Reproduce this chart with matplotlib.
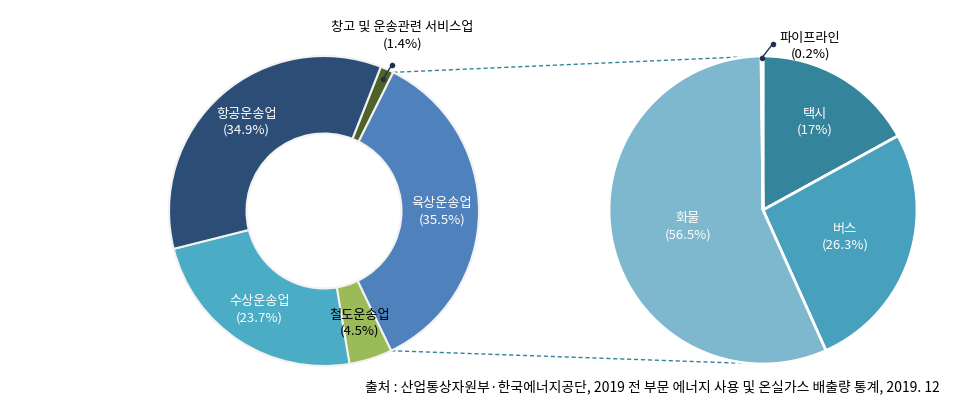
import numpy as np
import matplotlib
matplotlib.use("Agg")
import matplotlib.pyplot as plt

plt.rcParams['font.family'] = ['Noto Sans CJK KR', 'DejaVu Sans']

# 운송업 부문별 비중 (도넛)
sectors = ['창고 및 운송관련 서비스업', '육상운송업', '철도운송업', '수상운송업', '항공운송업']
sector_share = [1.4, 35.5, 4.5, 23.7, 34.9]
sector_pct_labels = ['(1.4%)', '(35.5%)', '(4.5%)', '(23.7%)', '(34.9%)']

# 육상운송업 세부 비중 (파이)
road = ['택시', '버스', '화물', '파이프라인']
road_share = [17.0, 26.3, 56.5, 0.2]
road_pct_labels = ['(17%)', '(26.3%)', '(56.5%)', '(0.2%)']

source = '출처 : 산업통상자원부·한국에너지공단, 2019 전 부문 에너지 사용 및 온실가스 배출량 통계, 2019. 12'

W, H = 975, 417
fig = plt.figure(figsize=(W / 100, H / 100), dpi=100)
ax = fig.add_axes([0, 0, 1, 1])

donut_c = (324, H - 211)
donut_r = 155
pie_c = (763, H - 210)
pie_r = 154

donut_colors = ['#4f6228', '#4f81bd', '#9bbb59', '#4bacc6', '#2c4d75']
pie_colors = ['#34849b', '#47a1bd', '#7db8cf', '#2c4d75']

w1, _ = ax.pie(sector_share, colors=donut_colors, startangle=68.5, counterclock=False,
               center=donut_c, radius=donut_r,
               wedgeprops=dict(width=donut_r * 0.5, edgecolor='#f2f2f2', linewidth=1.5))
w2, _ = ax.pie(road_share, colors=pie_colors, startangle=90, counterclock=False,
               center=pie_c, radius=pie_r,
               wedgeprops=dict(edgecolor='white', linewidth=2))
for w in list(w1) + list(w2):
    w.set_zorder(3)


def polar(c, r, deg):
    a = np.deg2rad(deg)
    return c[0] + r * np.cos(a), c[1] + r * np.sin(a)


def mid(w):
    return (w.theta1 + w.theta2) / 2


# 도넛 라벨
for i in range(1, 5):
    x, y = polar(donut_c, donut_r * 0.76, mid(w1[i]))
    col = 'black' if i == 2 else 'white'
    ax.text(x, y + 8, sectors[i], ha='center', va='center', fontsize=9.5, color=col, zorder=5)
    ax.text(x, y - 8, sector_pct_labels[i], ha='center', va='center', fontsize=9.5, color=col, zorder=5)

# 창고 라벨 + 지시선
x0, y0 = polar(donut_c, donut_r * 0.93, mid(w1[0]))
x1, y1 = x0 + 9, y0 + 14
ax.plot([x0, x1], [y0, y1], color='#1f3050', lw=1, zorder=6)
ax.plot([x0, x1], [y0, y1], 'o', color='#1f3050', ms=3, zorder=6)
ax.text(x1 + 11, y1 + 38, sectors[0], ha='center', va='center', fontsize=9.5, zorder=6)
ax.text(x1 + 11, y1 + 21, sector_pct_labels[0], ha='center', va='center', fontsize=9.5, zorder=6)

# 파이 라벨
for i, d in zip(range(3), [0.66, 0.56, 0.5]):
    x, y = polar(pie_c, pie_r * d, mid(w2[i]))
    ax.text(x, y + 8, road[i], ha='center', va='center', fontsize=9.5, color='white', zorder=5)
    ax.text(x, y - 8, road_pct_labels[i], ha='center', va='center', fontsize=9.5, color='white', zorder=5)

x0, y0 = polar(pie_c, pie_r * 0.99, mid(w2[3]))
x1, y1 = x0 + 11, y0 + 14
ax.plot([x0, x1], [y0, y1], color='#1f3050', lw=1, zorder=6)
ax.plot([x0, x1], [y0, y1], 'o', color='#1f3050', ms=3, zorder=6)
ax.text(x1 + 37, y1 + 5, road[3], ha='center', va='center', fontsize=9.5, zorder=6)
ax.text(x1 + 37, y1 - 10, road_pct_labels[3], ha='center', va='center', fontsize=9.5, zorder=6)

# 연결 점선 (육상운송업 -> 세부 파이)
a_top, a_bot = w1[1].theta1, w1[1].theta2
for a, b in [(max(a_top, a_bot), 90), (min(a_top, a_bot), 270)]:
    xs, ys = polar(donut_c, donut_r, a)
    xe, ye = polar(pie_c, pie_r, b)
    ax.plot([xs, xe], [ys, ye], ls=(0, (3, 2)), color='#31849b', lw=1, zorder=1)

# 출처: 참조 그림의 폭(약 575px)에 맞게 글자 크기 조정
cap = ax.text(365, H - 387, source, ha='left', va='center', fontsize=12, zorder=6)
fig.canvas.draw()
cap_w = cap.get_window_extent().width
cap.set_fontsize(12 * 575 / cap_w)

ax.set_xlim(0, W)
ax.set_ylim(0, H)
ax.set_aspect('auto')
ax.axis('off')

fig.savefig('out.png', dpi=100)
